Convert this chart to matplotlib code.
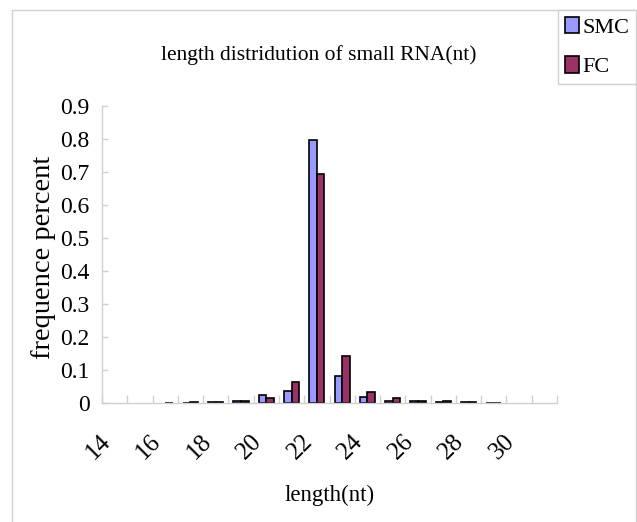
import matplotlib
matplotlib.use("Agg")
import matplotlib.pyplot as plt
from matplotlib.patches import Rectangle
import numpy as np

lengths = list(range(14, 32))
smc = [0, 0, 0, 0.001, 0.003, 0.005, 0.025, 0.037, 0.797, 0.082, 0.017, 0.007, 0.006, 0.004, 0.002, 0.001, 0, 0]
fc = [0, 0, 0.001, 0.002, 0.004, 0.006, 0.014, 0.064, 0.694, 0.142, 0.032, 0.016, 0.007, 0.005, 0.003, 0.001, 0, 0]
tick_labels = [str(v) if v % 2 == 0 and v <= 30 else "" for v in lengths]

plt.rcParams['font.family'] = ['Liberation Serif', 'DejaVu Serif']

fig = plt.figure(figsize=(6.37, 5.22), dpi=100)
ax = fig.add_axes([102/637, 1-403/522, (557-102)/637, (403-105.7)/522])

x = np.arange(len(lengths))
w = 0.3
smc_a = np.array(smc, dtype=float)
fc_a = np.array(fc, dtype=float)
ms = smc_a > 0
mf = fc_a > 0
ax.bar(x[ms] - w/2, smc_a[ms], w, color='#9999FF', edgecolor='black', linewidth=1.2, label='SMC')
ax.bar(x[mf] + w/2, fc_a[mf], w, color='#993366', edgecolor='black', linewidth=1.2, label='FC')

ax.set_xlim(-0.5, len(lengths) - 0.5)
ax.set_ylim(0, 0.9)
ax.set_yticks(np.arange(0, 0.91, 0.1))
ax.set_yticklabels(['0'] + ['%.1f' % v for v in np.arange(0.1, 0.91, 0.1)], fontsize=17)
ax.set_xticks(x)
ax.set_xticklabels(tick_labels, rotation=45, ha='right', fontsize=18)
ax.set_xticks(np.arange(-0.5, len(lengths)), minor=True)
ax.tick_params(axis='x', which='major', length=0, pad=20)
ax.tick_params(axis='x', which='minor', direction='in', length=6, color='#d0d0d0', width=1)
ax.tick_params(axis='y', direction='in', length=4, color='#d0d0d0', width=1, pad=9)
for s in ['top', 'right']:
    ax.spines[s].set_visible(False)
for s in ['left', 'bottom']:
    ax.spines[s].set_color('#d0d0d0')
    ax.spines[s].set_linewidth(1)

fig.text(319/637, 1-55/522, 'length distridution of small RNA(nt)', ha='center', va='center', fontsize=15.5)
fig.text(330/637, 1-495/522, 'length(nt)', ha='center', va='center', fontsize=16.5)
fig.text(44/637, 1-257/522, 'frequence percent', ha='center', va='center', rotation=90, fontsize=20.5)

fig.patches.append(Rectangle((12/637, -0.1), (636-12)/637, 1.1 - 10/522, transform=fig.transFigure,
                             fill=False, edgecolor='#d0d0d0', linewidth=1))

leg = fig.legend(loc='upper right', bbox_to_anchor=(636/637, 1-10/522), fontsize=16,
                 frameon=True, fancybox=False, edgecolor='#d0d0d0', framealpha=1,
                 handlelength=0.65, handleheight=0.75, handletextpad=0.15, borderpad=0.3,
                 labelspacing=0.85, borderaxespad=0)
leg.get_frame().set_linewidth(1)

fig.savefig('out.png', dpi=100)
